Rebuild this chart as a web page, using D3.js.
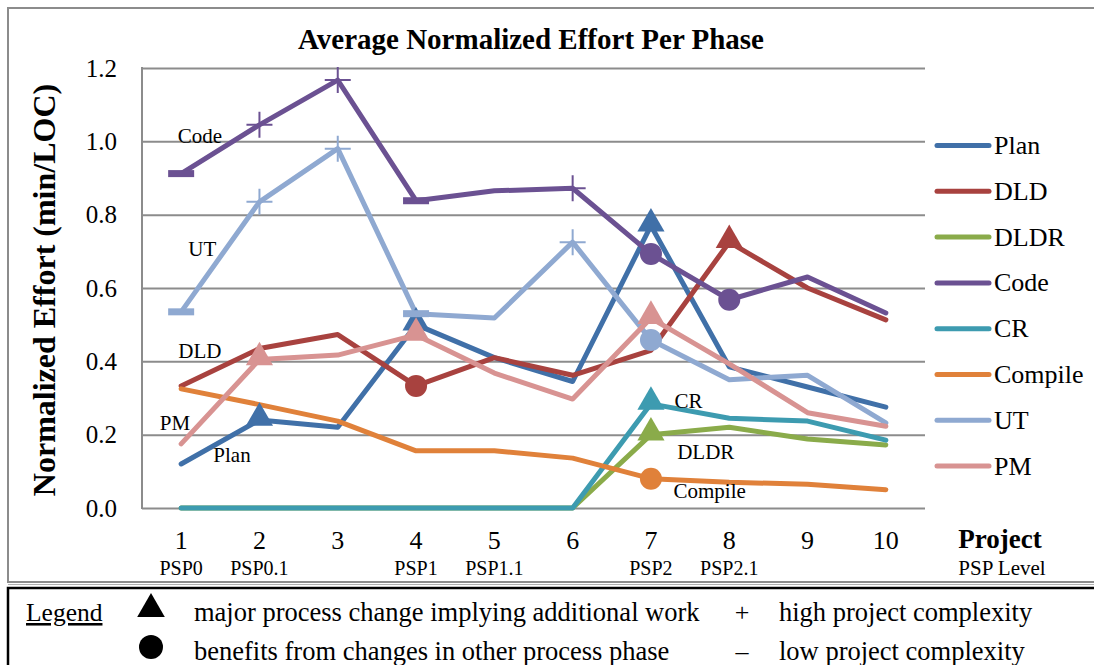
<!DOCTYPE html>
<html>
<head>
<meta charset="utf-8">
<script src="https://cdn.jsdelivr.net/npm/d3@7"></script>
<style>
  html, body { margin: 0; padding: 0; background: #fff; }
  svg { display: block; }
  text { font-family: "Liberation Serif", "Times New Roman", serif; fill: #000; }
</style>
</head>
<body>
<svg id="chart" width="1094" height="665"></svg>
<script>
// Projects on the x axis and the PSP level introduced at each one
const projects = [1, 2, 3, 4, 5, 6, 7, 8, 9, 10];
const pspLevels = ["PSP0", "PSP0.1", "", "PSP1", "PSP1.1", "", "PSP2", "PSP2.1", "", ""];
const yTicks = [0, 0.2, 0.4, 0.6, 0.8, 1.0, 1.2];

// Average normalized effort (min/LOC) per phase
const planValues    = [0.12, 0.24, 0.22, 0.50, 0.41, 0.345, 0.77, 0.385, 0.33, 0.275];
const dldValues     = [0.333, 0.435, 0.473, 0.333, 0.41, 0.362, 0.43, 0.725, 0.60, 0.513];
const dldrValues    = [0, 0, 0, 0, 0, 0, 0.20, 0.22, 0.188, 0.172];
const codeValues    = [0.912, 1.045, 1.167, 0.838, 0.865, 0.872, 0.693, 0.568, 0.63, 0.532];
const crValues      = [0, 0, 0, 0, 0, 0, 0.284, 0.245, 0.237, 0.185];
const compileValues = [0.325, 0.282, 0.237, 0.156, 0.156, 0.136, 0.08, 0.07, 0.065, 0.05];
const utValues      = [0.535, 0.835, 0.98, 0.53, 0.518, 0.725, 0.458, 0.35, 0.362, 0.232];
const pmValues      = [0.175, 0.405, 0.417, 0.472, 0.368, 0.297, 0.518, 0.393, 0.26, 0.223];

// Annotation markers per point: tri = process change, dot = benefit, plus = high, dash = low complexity
const planMarks    = ["", "tri", "", "tri", "", "", "tri", "", "", ""];
const dldMarks     = ["", "", "", "dot", "", "", "", "tri", "", ""];
const dldrMarks    = ["", "", "", "", "", "", "tri", "", "", ""];
const codeMarks    = ["dash", "plus", "plus", "dash", "", "plus", "dot", "dot", "", ""];
const crMarks      = ["", "", "", "", "", "", "tri", "", "", ""];
const compileMarks = ["", "", "", "", "", "", "dot", "", "", ""];
const utMarks      = ["dash", "plus", "plus", "dash", "", "plus", "dot", "", "", ""];
const pmMarks      = ["", "tri", "", "tri", "", "", "tri", "", "", ""];

const seriesNames  = ["Plan", "DLD", "DLDR", "Code", "CR", "Compile", "UT", "PM"];
const seriesColors = ["#4070a8", "#a8423f", "#8aab4a", "#6b5192", "#3d9bb0", "#e0813a", "#8fa9d1", "#d89392"];

// In-plot series labels: [name, project, value at baseline]
const inlineLabels = [
  ["Code", 1.24, 0.995],
  ["UT", 1.27, 0.687],
  ["DLD", 1.24, 0.409],
  ["PM", 0.92, 0.213],
  ["Plan", 1.65, 0.125],
  ["CR", 7.48, 0.273],
  ["DLDR", 7.70, 0.134],
  ["Compile", 7.75, 0.027]
];

const series = [
  { values: planValues, marks: planMarks },
  { values: dldValues, marks: dldMarks },
  { values: dldrValues, marks: dldrMarks },
  { values: codeValues, marks: codeMarks },
  { values: crValues, marks: crMarks },
  { values: compileValues, marks: compileMarks },
  { values: utValues, marks: utMarks },
  { values: pmValues, marks: pmMarks }
].map((s, i) => ({ ...s, name: seriesNames[i], color: seriesColors[i] }));

const svg = d3.select("#chart");

// Outer chart frame and the legend box below it
svg.append("rect").attr("x", 8).attr("y", 8).attr("width", 1100).attr("height", 574)
  .attr("fill", "#fff").attr("stroke", "#8c8c8c").attr("stroke-width", 2);
svg.append("line").attr("x1", 8).attr("x2", 1094).attr("y1", 584.5).attr("y2", 584.5)
  .attr("stroke", "#b0b0b0").attr("stroke-width", 1);
svg.append("rect").attr("x", 8).attr("y", 588).attr("width", 1100).attr("height", 100)
  .attr("fill", "#fff").attr("stroke", "#000").attr("stroke-width", 2.5);

const plot = { left: 142, right: 925, top: 68, bottom: 508 };

const x = d3.scaleBand().domain(projects).range([plot.left, plot.right]);
const xc = p => x(p) + x.bandwidth() / 2;
const xPos = d3.scaleLinear().domain([1, 2]).range([xc(1), xc(2)]);
const y = d3.scaleLinear().domain([0, 1.2]).range([plot.bottom, plot.top]);

// Gridlines
svg.append("g")
  .attr("transform", `translate(${plot.left},0)`)
  .call(d3.axisLeft(y).tickValues(yTicks).tickSize(-(plot.right - plot.left)).tickFormat(""))
  .call(g => g.select(".domain").remove())
  .call(g => g.selectAll("line").attr("stroke", "#8c8c8c").attr("stroke-width", 2));

// Y axis line and labels
svg.append("line").attr("x1", plot.left).attr("x2", plot.left)
  .attr("y1", plot.top - 1).attr("y2", plot.bottom + 1)
  .attr("stroke", "#8c8c8c").attr("stroke-width", 2);
svg.append("g")
  .attr("transform", `translate(${plot.left},0)`)
  .call(d3.axisLeft(y).tickValues(yTicks).tickSize(0).tickPadding(25).tickFormat(d3.format(".1f")))
  .call(g => g.select(".domain").remove())
  .call(g => g.selectAll("text").style("font-family", "Liberation Serif").style("font-size", "25px").attr("fill", "#000"));

// X axis labels
svg.append("g")
  .attr("transform", `translate(0,${plot.bottom})`)
  .call(d3.axisBottom(x).tickSize(0).tickPadding(0))
  .call(g => g.select(".domain").remove())
  .call(g => g.selectAll("text").attr("dy", null).attr("y", 41)
    .style("font-family", "Liberation Serif").style("font-size", "26px").attr("fill", "#000"));

svg.append("g").selectAll("text").data(projects).join("text")
  .attr("x", p => xc(p)).attr("y", 575)
  .attr("text-anchor", "middle").style("font-size", "20px")
  .text((p, i) => pspLevels[i]);

svg.append("text").attr("x", 1000).attr("y", 548).attr("text-anchor", "middle")
  .style("font-size", "27px").style("font-weight", "bold").text("Project");
svg.append("text").attr("x", 1002).attr("y", 575).attr("text-anchor", "middle")
  .style("font-size", "21px").text("PSP Level");

// Title
svg.append("text").attr("x", 531).attr("y", 49).attr("text-anchor", "middle")
  .style("font-size", "29px").style("font-weight", "bold").text("Average Normalized Effort Per Phase");

// Y axis title
svg.append("text").attr("transform", "translate(55,290) rotate(-90)")
  .attr("text-anchor", "middle").style("font-size", "32px").style("font-weight", "bold")
  .text("Normalized Effort (min/LOC)");

// Series lines
const line = d3.line().x((d, i) => xc(projects[i])).y(d => y(d));
const lines = svg.append("g");
series.forEach(s => {
  lines.append("path").datum(s.values).attr("d", line)
    .attr("fill", "none").attr("stroke", s.color).attr("stroke-width", 5)
    .attr("stroke-linejoin", "round").attr("stroke-linecap", "round");
});

// Markers
const triPath = d3.symbol(d3.symbolTriangle, 320)();
const markG = svg.append("g");
series.forEach(s => {
  s.marks.forEach((m, i) => {
    if (!m) return;
    const cx = xc(projects[i]), cy = y(s.values[i]);
    if (m === "tri") {
      markG.append("path").attr("d", triPath)
        .attr("transform", `translate(${cx},${cy - 2})`).attr("fill", s.color);
    } else if (m === "dot") {
      markG.append("circle").attr("cx", cx).attr("cy", cy).attr("r", 11).attr("fill", s.color);
    } else if (m === "plus") {
      markG.append("path").attr("d", `M${cx - 13},${cy}H${cx + 13}M${cx},${cy - 13}V${cy + 13}`)
        .attr("stroke", s.color).attr("stroke-width", 2).attr("fill", "none");
    } else if (m === "dash") {
      markG.append("rect").attr("x", cx - 13).attr("y", cy - 3.5).attr("width", 26).attr("height", 7)
        .attr("fill", s.color);
    }
  });
});

// Inline series labels
svg.append("g").selectAll("text").data(inlineLabels).join("text")
  .attr("x", d => xPos(d[1])).attr("y", d => y(d[2]))
  .attr("text-anchor", "middle").style("font-size", "21px")
  .text(d => d[0]);

// Series legend
const leg = svg.append("g");
series.forEach((s, i) => {
  const ly = 145.5 + i * 45.8;
  leg.append("line").attr("x1", 937).attr("x2", 989).attr("y1", ly).attr("y2", ly)
    .attr("stroke", s.color).attr("stroke-width", 5).attr("stroke-linecap", "round");
  leg.append("text").attr("x", 994).attr("y", ly + 8.5).style("font-size", "26px").text(s.name);
});

// Annotation legend
const ann = svg.append("g");
ann.append("text").attr("x", 26).attr("y", 621).style("font-size", "25.5px")
  .style("text-decoration", "underline").text("Legend");
ann.append("path").attr("d", d3.symbol(d3.symbolTriangle, 330)()).attr("transform", "translate(151,609)").attr("fill", "#000");
ann.append("circle").attr("cx", 151).attr("cy", 647).attr("r", 12).attr("fill", "#000");
ann.append("text").attr("x", 194).attr("y", 621).style("font-size", "26.5px").text("major process change implying additional work");
ann.append("text").attr("x", 194).attr("y", 660).style("font-size", "26.5px").text("benefits from changes in other process phase");
ann.append("text").attr("x", 742).attr("y", 621).attr("text-anchor", "middle").style("font-size", "26px").text("+");
ann.append("text").attr("x", 742).attr("y", 660).attr("text-anchor", "middle").style("font-size", "26px").text("–");
ann.append("text").attr("x", 779).attr("y", 621).style("font-size", "26.5px").text("high project complexity");
ann.append("text").attr("x", 779).attr("y", 660).style("font-size", "26.5px").text("low project complexity");
</script>
</body>
</html>
